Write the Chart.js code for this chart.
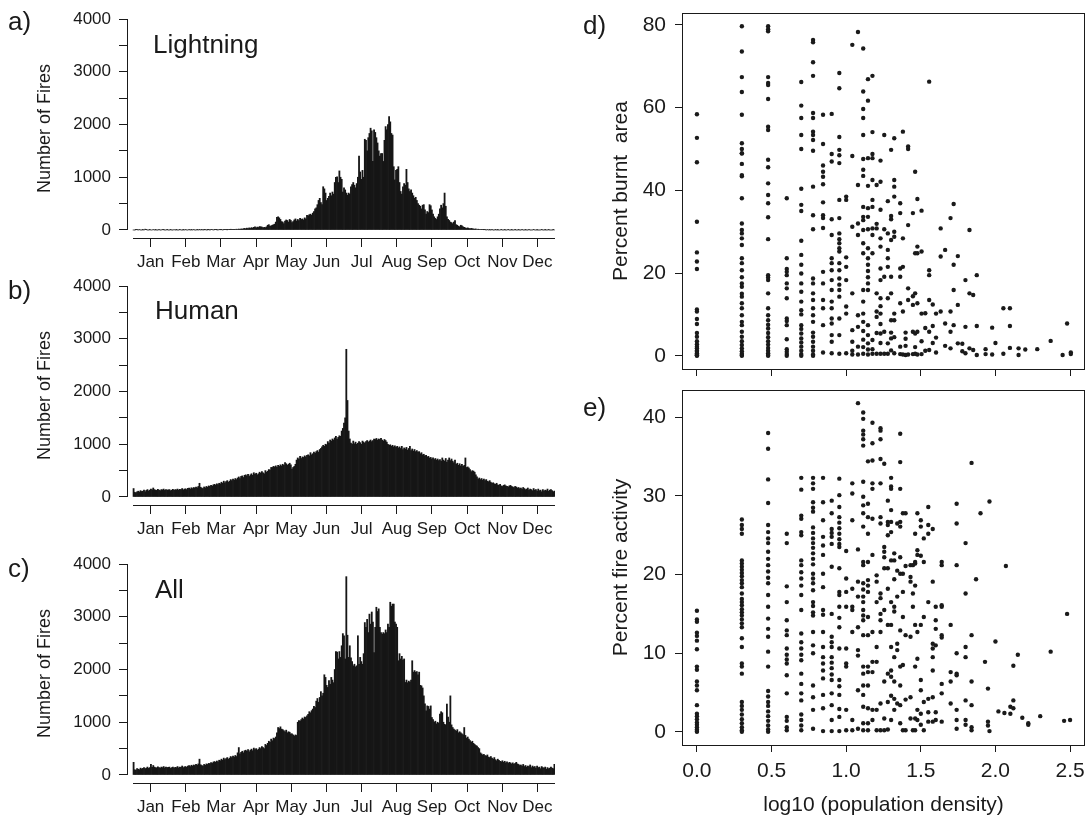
<!DOCTYPE html>
<html><head><meta charset="utf-8">
<script src="https://cdn.jsdelivr.net/npm/chart.js@4.4.1/dist/chart.umd.min.js"></script>
<style>
html,body{margin:0;padding:0;background:#fff;}
body{width:1089px;height:818px;position:relative;overflow:hidden;font-family:'Liberation Sans',Arial,Helvetica,sans-serif;color:#1a1a1a;}
canvas{position:absolute;}
.lbl{position:absolute;line-height:1;white-space:nowrap;color:#1a1a1a;}
</style></head><body>
<canvas id="ca" width="560" height="270" style="left:0;top:0"></canvas>
<canvas id="cb" width="560" height="270" style="left:0;top:270px"></canvas>
<canvas id="cc" width="560" height="278" style="left:0;top:540px"></canvas>
<canvas id="cd" width="529" height="380" style="left:560px;top:0"></canvas>
<canvas id="ce" width="529" height="438" style="left:560px;top:380px"></canvas>
<div class="lbl" style="left:8px;top:8px;font-size:26px">a)</div>
<div class="lbl" style="left:8px;top:277px;font-size:26px">b)</div>
<div class="lbl" style="left:8px;top:555px;font-size:26px">c)</div>
<div class="lbl" style="left:583px;top:12px;font-size:26px">d)</div>
<div class="lbl" style="left:583px;top:394px;font-size:26px">e)</div>
<div class="lbl" style="left:153px;top:31px;font-size:26px">Lightning</div>
<div class="lbl" style="left:155px;top:297px;font-size:26px">Human</div>
<div class="lbl" style="left:155px;top:576px;font-size:26px">All</div>
<script>
const months = ['Jan','Feb','Mar','Apr','May','Jun','Jul','Aug','Sep','Oct','Nov','Dec'];
const fireTicks = [0,500,1000,1500,2000,2500,3000,3500,4000];

const lightning = [
0,0,5,12,0,8,0,0,3,0,15,6,0,0,4,0,0,10,0,2,0,0,7,0,0,12,3,0,0,5,0,
0,4,0,0,9,0,3,0,0,6,0,0,2,0,11,0,0,5,0,3,0,8,0,0,4,0,6,0,
5,0,3,8,0,2,6,0,4,10,0,5,7,3,0,9,4,6,0,12,5,8,3,10,6,14,8,5,12,9,15,
10,18,12,20,15,25,30,22,35,28,40,30,45,35,50,60,40,55,48,65,60,55,40,50,45,60,90,100,70,80,
90,100,110,150,240,250,230,200,160,150,120,170,190,180,150,200,180,140,160,190,210,170,200,180,220,200,210,190,230,210,280,
270,290,300,280,320,350,400,420,480,560,600,520,480,820,780,700,560,600,640,700,650,720,680,900,1000,1010,900,1120,1000,960,
720,800,760,700,660,700,680,820,860,900,850,800,880,1000,1400,1100,960,1130,1000,1720,1700,1500,1750,1830,1930,1880,1300,1900,1850,1750,1650,
1500,1400,1450,1450,1300,1700,1960,1900,2000,2150,2050,1830,1800,1200,950,1130,1150,1200,900,730,680,820,880,850,1150,900,780,730,760,700,650,
600,620,560,500,470,450,400,470,480,380,300,350,330,480,460,380,300,250,220,200,250,300,400,470,420,500,700,450,250,200,
180,150,140,120,150,180,100,90,70,60,90,80,60,50,40,30,40,30,20,30,25,20,15,20,10,15,10,10,12,8,5,
5,0,8,0,3,0,6,0,0,4,0,2,0,0,5,0,0,3,0,0,6,0,0,2,0,0,4,0,0,3,
0,0,5,0,0,2,0,0,4,0,0,0,6,0,0,3,0,0,0,5,0,0,2,0,0,4,0,0,0,3,0];

const human = [
160,90,80,100,110,95,120,105,110,130,100,125,140,115,130,150,135,170,140,130,125,145,130,120,140,135,150,125,140,130,135,
140,120,130,145,125,140,135,150,130,145,140,160,135,150,155,140,165,170,150,175,160,180,170,190,175,200,260,185,
170,160,190,175,200,185,210,200,220,205,230,240,225,250,235,260,250,280,260,300,270,290,310,280,300,330,310,340,320,350,330,
360,380,350,390,400,370,410,420,400,430,390,420,440,410,460,430,450,420,440,470,450,480,460,440,500,470,490,520,510,560,
560,580,570,590,560,600,580,610,590,620,600,650,630,600,620,640,610,530,560,580,620,700,740,720,770,730,760,750,780,760,790,
800,780,840,800,820,850,830,860,880,850,900,920,950,980,960,1000,990,1050,1020,1080,1060,1100,1080,1120,1150,1100,1130,1160,1150,1250,
1300,1400,1500,2800,1830,1250,1100,1020,1000,1060,1010,1040,1000,1020,1050,1030,1000,1060,1040,1020,1050,1070,1040,1060,1080,1050,1070,1100,1090,1110,1080,
1100,1090,1110,1080,1060,1090,1070,1040,1000,980,990,960,980,950,970,940,960,930,950,920,960,900,930,910,940,890,920,960,880,910,870,
900,860,880,850,860,820,840,800,810,780,790,760,770,740,750,720,740,710,730,700,720,690,710,680,740,700,680,730,660,700,
740,690,720,680,650,700,620,640,600,630,590,620,580,600,740,560,570,550,520,480,500,490,470,420,380,340,360,330,350,320,340,
310,330,300,290,310,280,260,270,250,240,260,230,220,240,210,200,220,230,210,200,190,210,220,200,190,180,200,190,170,180,
160,170,150,180,160,140,150,170,130,150,140,120,160,130,140,110,150,120,130,100,140,110,130,120,150,110,130,140,120,100,110];

const allFires = [
240,100,90,120,110,100,130,115,125,140,120,130,150,125,140,200,145,180,150,140,135,155,140,130,150,140,160,135,150,140,145,
150,125,140,150,130,145,140,160,135,150,145,170,140,155,160,145,170,180,160,185,170,190,180,200,185,210,300,195,
180,170,200,185,210,200,220,215,235,220,245,255,240,265,250,280,270,300,280,320,290,310,330,300,320,350,330,360,340,370,350,
420,520,400,430,450,420,460,470,450,480,440,470,490,460,510,480,500,470,490,520,500,540,520,500,580,560,600,640,620,680,
650,700,690,720,800,900,880,913,870,860,840,820,850,800,820,810,780,780,760,740,760,750,1000,1030,1020,1050,1080,1060,1100,1090,1120,
1150,1200,1180,1220,1250,1300,1280,1400,1450,1380,1470,1580,1500,1550,1900,1850,1700,1660,1790,1720,1850,1800,1750,2000,2340,2330,2200,2340,2230,2450,
2680,2640,2200,3760,2650,2230,2450,2220,2150,2070,2100,2050,2070,2640,2100,2230,2150,2100,2300,2890,2800,2950,2700,3050,2860,3090,2900,2320,2800,3180,3100,
3150,2800,2700,2670,2700,2680,2750,2700,2860,2800,3275,3200,3240,3240,2900,2860,2800,2166,2300,2200,2250,2180,2200,1755,1800,1750,1780,1760,1800,2166,1950,
1980,1950,1960,1900,1950,1700,1690,1650,1500,1350,1216,1310,1300,1250,1310,1090,1050,1000,1020,970,1000,980,1153,1200,1180,1000,960,950,1345,1100,
1000,1500,950,900,870,850,830,860,800,820,800,780,760,900,750,700,720,680,650,620,640,600,580,560,550,520,500,420,400,380,390,
370,360,380,340,330,350,320,300,330,290,270,300,280,260,250,270,240,260,230,250,220,240,230,210,230,200,220,240,210,200,
180,190,170,200,160,180,150,170,160,190,140,170,150,160,130,170,140,150,120,160,140,130,150,110,140,120,130,150,130,120,200];

const popTicks = [0,0.5,1,1.5,2,2.5];
const burntTicks = [0,20,40,60,80];
const activityTicks = [0,10,20,30,40];

const burntCols = [0,0.301,0.477,0.602,0.699,0.778,0.845,0.903,0.954,1.0,1.041,1.079,1.114,1.146,1.176,1.204,1.23,1.255,1.279,1.301,1.322,1.362,1.38,1.398,1.415,1.447,1.462,1.477,1.505,1.53,1.556,1.58,1.602,1.633,1.663,1.699,1.72,1.748,1.778,1.799,1.826,1.851,1.875,1.934,1.978,2.0,2.053,2.097,2.155,2.2,2.28,2.37,2.45,2.48,2.505];
const burntVals = [
[58.4,52.7,46.8,32.4,25,22.8,21,11.2,10.7,8.9,7.7,5.5,4.6,3.5,2.8,2.2,1.8,1.3,1.0,0.6,0.3,0.1,0],
[79.7,73.6,67.4,63.8,58.3,51.4,50,49,48.9,46.4,43.7,43.4,38.1,32,30.4,29.6,28.4,26.8,23.6,22.4,20.7,19,17.5,16.7,15,14.3,12.7,11.5,9.8,8.2,7.4,5.8,4.6,3.5,2.6,1.8,1.1,0.5,0.2,0],
[79.7,79,78.5,67.4,66,65.5,62.1,55.4,54.6,47.4,45.6,41.7,38.9,36.9,33.5,28.2,19.5,18.9,18.3,15.1,11.5,9.8,8.6,7.5,6.6,5.5,4.5,3.5,2.7,1.9,1.2,0.6,0.2,0],
[38.1,23.6,21,20.3,19.5,17.5,16.3,13.9,9,8.4,7.4,4,1.6,1.0,0.4,0],
[66.2,60.5,57.5,53.4,50,40.4,36.5,35,27.8,24.4,22,19.9,17.5,15.5,13.1,11,10,7.4,6.5,5.4,4.2,3.2,2.2,1.2,0.4,0],
[76.4,75.8,71,67.7,58.7,57.5,54.2,53.4,52.2,49.6,40.9,34,30.6,18.7,17.5,15.1,13.5,11.5,9.8,8.2,5.6,4.6,3.4,2.2,1.2,0.3,0],
[58.3,51.2,46,44.5,43.3,41.5,37.1,34,33.3,30.9,20.3,17.5,13.5,11.5,7.4,0.8],
[58.5,48.8,47,33,29.2,23.6,22.4,20.7,18.3,15.9,13.1,11.5,9,7.8,5,3.4,0.6],
[68.4,64.7,52.9,49.8,48.5,46.6,37.7,33.3,29.6,28.2,27.2,26,25.2,22.4,20.7,18.7,17.2,15.9,14.3,9,5,0.5],
[38.5,37.7,23.8,21.5,18.3,11.9,10.2,0.6],
[75.2,48.3,31.2,15.1,6.2,3.4,1.2,0.3],
[78.3,41.3,32,29.2,9.8,7,2.2,0.3],
[74.3,63.9,59.7,57.5,53.4,47.6,45,43.5,36,33.6,32.8,30.4,27.2,24.8,15.9,13.1,10.2,8.2,6,3.9,2.1,0.5],
[66.9,61.7,47.8,41.1,35.7,33.6,30.6,26,23.6,22,20.5,19,17.5,15.9,7.4,5,3,1.5,0.3],
[67.7,54.1,48.8,47.8,42.5,37.7,36,30.8,29.2,24.8,3.8,1.6,0.5],
[41.3,31.9,30.8,15.1,10.7,9.4,5.5,0.5],
[47.2,42.1,35.3,28.4,26.4,21.1,18.3,13.9,12,10.2,7.7,5.4,3.1,0.5],
[53.4,30.6,19.1,5.8,0.5],
[37.4,29.6,25.6,23.6,21.5,13.9,3,0.5],
[49.8,33.8,33,28,19.1,15.1,8.6,5.6,4.2,1.3],
[52.6,42.5,40.9,38.5,30,28.8,10.2,8.6,4.5,0.6],
[36.9,34.5,21.1,19.1,12.7,2.2,0.4],
[54.2,28.4,21.5,10.7,0.3],
[5.6,4.1,2.4,0.2],
[50.6,50,31.6,16.3,13.5,0.3],
[34.5,14.4,12.3,5.8,0.4],
[44.5,24.8,15.1,5.4,2.1,0.5],
[37.9,26.4,24.8,12.7,5.8,0.3],
[35.1,25.2,10.2,3.5,0.4],
[10.3,6.7,1.2],
[66.3,20.7,19.5,13.5,5.8,1.4],
[12.4,7.2,3.1],
[10.2,4.4,0.8],
[30.8,24,10.7],
[25.6,7.8,2.4],
[33.3,10.7,5.8,1.8],
[36.7,22,15.9,7.4],
[24.1,12.3,3],
[2.9,1.1],
[18.3,7,0.6],
[30.4,15.1,1.8],
[14.7,1.4],
[19.5,7.2,0.2],
[0.4,1.6],
[6.8,0.3],
[3.1],
[11.5,0.5],
[11.5,7.2,1.9],
[1.8,0.2],
[1.5],
[1.6],
[3.6],
[0.2],
[7.8],
[0.4,0.8]];

const activityCols = [0,0.301,0.477,0.602,0.699,0.778,0.845,0.903,0.954,1.0,1.041,1.079,1.114,1.146,1.176,1.204,1.23,1.255,1.279,1.301,1.322,1.342,1.362,1.38,1.398,1.431,1.447,1.462,1.477,1.5,1.52,1.55,1.58,1.6,1.64,1.7,1.74,1.8,1.84,1.87,1.9,1.93,1.95,1.96,2.0,2.02,2.06,2.07,2.1,2.12,2.15,2.18,2.22,2.3,2.37,2.46,2.48,2.5];
const activityVals = [
[15.4,14.3,14,12.6,12.2,11.6,10.5,8.3,7.9,6.4,5.9,5.3,3.4,2.3,2,1.6,1.2,0.9,0.6,0.3,0.1,0],
[27,26.3,25.8,25.2,21.8,21.4,21,20.6,20.2,19.8,19.3,18.9,18.4,17.6,16.9,16.5,16.1,15.6,15.2,14.8,14.3,13.8,13.3,11.9,10.8,8.7,8.3,7.4,3.8,3.3,2.8,2.2,1.6,1.1,0.6,0.2,0],
[38,36,32.1,29.1,26.3,25.4,24.6,24,22.9,22,21.2,20.4,19.6,18.9,17.4,15.9,14.4,13.1,12.1,10.2,8.3,5.2,4.5,3.8,3.3,2.6,2,1.4,0.8,0.3,0],
[25.2,24,18.5,16.5,14.2,12.9,12.3,10.6,9.8,9.2,8.7,7.2,4.9,1.9,1.4,0.6,0.2],
[32.3,30.8,27.5,27.1,25.4,25,21.8,21.2,20.3,19.5,18.6,17.4,15.5,12.5,11.4,10.6,9.8,9.1,7.4,6.1,4.9,4,2.2,1.5,0.8,0.2],
[32.3,31.6,30.9,29.2,28.5,28,26,25.3,24.6,24,23.4,22.7,22,21.3,20.1,19.5,18.9,18,16.5,16,15.2,14.8,12.7,11,10,5.9,4.4,2.8,0.4],
[32.3,29.2,26.9,24.8,23.7,22.5,20.1,18.4,15.5,14.9,12.7,10.8,9.5,8.7,7.8,6.8,4.7,3,0.1],
[29.4,27.8,25.8,25.3,24.8,23.9,21,15,12.1,11.4,10.8,9.5,8.8,8.1,7.3,6.6,4.9,3.4,1.5,0.1],
[32.2,30.1,28.6,27.3,26.6,25.9,25.2,24.5,23.9,23.5,20.8,17.8,17.4,15.9,14.5,13.3,10.6,6.6,5.8,4.7,2.9,1.9,0.1],
[23,19.5,17.8,15.9,10.6,8.7,8.3,2.8,0.2],
[31.6,30.3,26.9,18.2,15.9,15.5,12.7,1.5,0.2],
[41.8,23.2,19.1,17.2,13.3,10.4,9.7,5.3,0.4],
[40.6,39.8,38.3,37.8,37.2,36.4,31.8,29.9,28.8,27.8,26.1,21.6,21.2,18.9,18.1,17.2,16.5,15.5,14.8,14.2,12.3,8.3,7.4,5.9,4.7,3.2,1.1,0.2],
[34.4,29,27.3,25.2,21.6,19.3,18.6,17.8,14.6,12.3,8.3,7.6,5.9,3,1.1,0.2],
[39.3,36.7,34.5,31.6,30.9,27.1,22.5,12.7,8.9,7.6,2.8,1.5],
[19.9,19.1,16.5,10.8,8.9,2.8,0.2],
[38.6,38.3,37.2,34.7,31.6,27.3,26.5,17.6,17,15,14.2,12.7,3.6,0.2],
[34.1,23.5,22.9,22.2,20.8,15.5,6.4,1.7,0.2],
[29.4,26.7,26.3,25,20.8,18.2,13.6,7.4,3.8,0.3],
[32.3,31.2,30.9,28.2,26.7,25.4,21.8,16.5,13.6,10.8,7.8,7,4.6,1.5],
[22.7,21.8,19.4,15.9,15.3,9.5,6.4,4.2,2.8],
[26.5,20.5,17.2,11.2,10.4,3.6],
[37.9,34.3,30.9,26.7,26.1,22.2,20.1,12.9,8.3,5.9,3.4,1.1],
[27.8,20.1,17.8,14.6,8.5,0.2],
[27.8,21.1,12.3,4.1,0.2],
[21.2,19.7,19.1,12.1,4.4,1.7],
[21.2,17.6,15.9,0.2],
[25.2,21.6,21.4,18.6,13.6,8.3,1.7,0.2],
[27.8,23.1,22.5,12.7,9.3,2.8,1.5],
[26.9,26.1,22.4,13.6,6.6,5.3,2.3,0.9],
[24.6,21.6,14.6,3.8,0.2],
[28.6,26.3,25.2,16.5,4.2,2.5,1.3],
[25.8,19.1,11.2,10.6,9.5,7.8,4.4,1.3],
[15.9,14.2,13.1,11,2.5,1.5],
[21.6,21.2,15.9,16.1,12.3,12,6.1,4.9,1.3],
[13.6,7.6,6.4,3.6],
[29,26.5,21.2,10,7.4,7.2,2.8,1.5,0.4],
[24,17.6,10.8,9.5,4,1.5,0.9],
[34.2,12.3,6.4,3.4,0.6,0.2],
[19.4],
[27.8],
[8.9],
[5.5,1.3,0.8],
[29.3,0.1],
[11.5],
[2.6],
[2.4],
[21.1],
[3.2,2.3],
[8.4,4,3],
[9.8],
[1.8],
[1.1,0.9],
[2],
[10.2],
[1.4],
[15],
[1.5]];

const INK = '#1a1a1a';
const FONT = "'Liberation Sans', Arial, Helvetica, sans-serif";
Chart.defaults.font.family = FONT;
Chart.defaults.color = INK;

function noPad(s) { s.paddingTop = 0; s.paddingBottom = 0; s.paddingLeft = 0; s.paddingRight = 0; }

const histAxes = {
  id: 'histAxes',
  afterDraw(chart) {
    const {ctx, chartArea, scales} = chart;
    const x = scales.x, y = scales.y;
    ctx.save();
    ctx.strokeStyle = INK; ctx.lineWidth = 1;
    const xl = Math.round(chartArea.left) + 0.5;
    ctx.beginPath(); ctx.moveTo(xl, y.getPixelForValue(0)); ctx.lineTo(xl, y.getPixelForValue(4000)); ctx.stroke();
    const yb = Math.round(chartArea.bottom) + 0.5;
    ctx.beginPath(); ctx.moveTo(x.getPixelForValue(0), yb); ctx.lineTo(x.getPixelForValue(365), yb); ctx.stroke();
    ctx.restore();
  }
};

const boxFrame = {
  id: 'boxFrame',
  afterDraw(chart) {
    const {ctx, chartArea: a} = chart;
    ctx.save(); ctx.strokeStyle = INK; ctx.lineWidth = 1;
    ctx.strokeRect(Math.round(a.left) + 0.5, Math.round(a.top) + 0.5, Math.round(a.right - a.left) - 1, Math.round(a.bottom - a.top));
    ctx.restore();
  }
};

function histChart(id, values, canvasH, areaTop, areaBottom) {
  return new Chart(document.getElementById(id), {
    type: 'bar',
    data: { datasets: [{
      data: values.map((v, i) => ({x: i + 0.5, y: v})),
      backgroundColor: '#161616', borderWidth: 0,
      barPercentage: 1, categoryPercentage: 1
    }]},
    options: {
      responsive: false, animation: false, devicePixelRatio: 1,
      layout: {padding: {left: 0, right: 5, top: areaTop, bottom: 0}},
      plugins: {legend: {display: false}, tooltip: {enabled: false}},
      scales: {
        x: {
          type: 'linear', min: -5.2, max: 365, offset: false,
          afterBuildTicks: s => { s.ticks = months.map((m, i) => ({value: i * 365 / 12})); },
          afterFit: s => { s.height = canvasH - areaBottom; noPad(s); },
          grid: {display: true, drawOnChartArea: false, drawTicks: true, tickLength: 9,
                 color: c => (c.index === 0 ? 'rgba(0,0,0,0)' : INK),
                 tickColor: c => (c.index === 0 ? 'rgba(0,0,0,0)' : INK)},
          border: {display: false},
          ticks: {autoSkip: false, maxRotation: 0, minRotation: 0, labelOffset: 17.6, padding: 5,
                  font: {size: 17}, color: INK, callback: (v, i) => months[i]}
        },
        y: {
          type: 'linear', min: -152, max: 4000,
          afterBuildTicks: s => { s.ticks = fireTicks.map(v => ({value: v})); },
          afterFit: s => { s.width = 127; noPad(s); },
          grid: {display: true, drawOnChartArea: false, drawTicks: true, tickLength: 8, color: INK, tickColor: INK},
          border: {display: false},
          ticks: {padding: 8, font: {size: 17}, color: INK, callback: v => (v % 1000 === 0 ? String(v) : '')},
          title: {display: true, text: 'Number of Fires', font: {size: 18}, color: INK, padding: {top: 34, bottom: 0}}
        }
      }
    },
    plugins: [histAxes]
  });
}

histChart('ca', lightning, 270, 19, 238);
histChart('cb', human, 270, 16, 235);
histChart('cc', allFires, 278, 24, 243);

function columnPoints(cols, vals) {
  const pts = [];
  cols.forEach((cx, i) => vals[i].forEach(v => pts.push({x: cx, y: v})));
  return pts;
}

function scatterChart(id, pts, canvasH, areaTop, areaBottom, yMin, yMax, yTicks, yTitle, showX) {
  return new Chart(document.getElementById(id), {
    type: 'scatter',
    data: { datasets: [{ data: pts, backgroundColor: INK, borderWidth: 0, pointRadius: 2.2 }]},
    options: {
      responsive: false, animation: false, devicePixelRatio: 1,
      layout: {padding: {left: 0, right: 1, top: areaTop, bottom: 0}},
      plugins: {legend: {display: false}, tooltip: {enabled: false}},
      scales: {
        x: {
          type: 'linear', min: -0.1, max: 2.6,
          afterBuildTicks: s => { s.ticks = popTicks.map(v => ({value: v})); },
          afterFit: s => { s.height = canvasH - areaBottom; noPad(s); },
          grid: {display: true, drawOnChartArea: false, drawTicks: true, tickLength: 7, color: INK, tickColor: INK},
          border: {display: false},
          ticks: {display: showX, autoSkip: false, maxRotation: 0, padding: 7, font: {size: 21}, color: INK,
                  callback: v => Number(v).toFixed(1)},
          title: {display: showX, text: 'log10 (population density)', font: {size: 21}, color: INK, padding: {top: 0, bottom: 0}}
        },
        y: {
          type: 'linear', min: yMin, max: yMax,
          afterBuildTicks: s => { s.ticks = yTicks.map(v => ({value: v})); },
          afterFit: s => { s.width = 122; noPad(s); },
          grid: {display: true, drawOnChartArea: false, drawTicks: true, tickLength: 7, color: INK, tickColor: INK},
          border: {display: false},
          ticks: {padding: 9, font: {size: 21}, color: INK, callback: v => String(v)},
          title: {display: true, text: yTitle, font: {size: 21}, color: INK, padding: {top: 49, bottom: 0}}
        }
      }
    },
    plugins: [boxFrame]
  });
}

scatterChart('cd', columnPoints(burntCols, burntVals), 380, 13, 369, -3.2, 82.9, burntTicks, 'Percent burnt  area', false);
scatterChart('ce', columnPoints(activityCols, activityVals), 438, 10, 365, -1.67, 43.47, activityTicks, 'Percent fire activity', true);
</script>
</body></html>
